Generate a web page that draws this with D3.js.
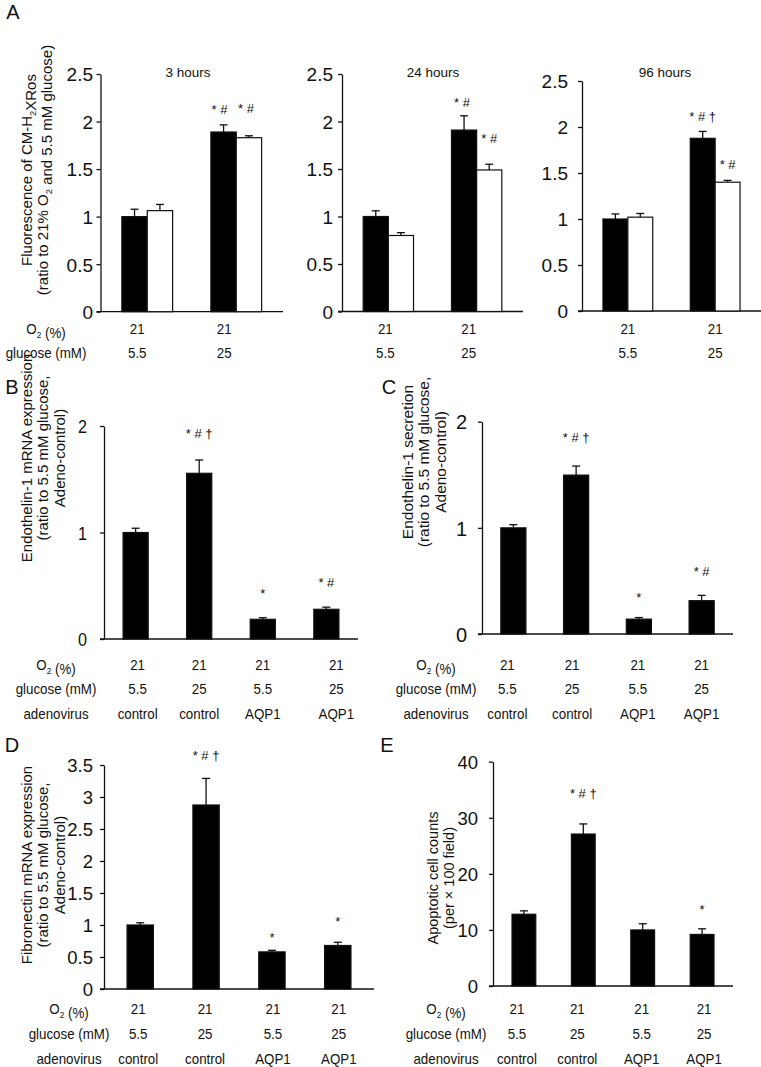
<!DOCTYPE html>
<html><head><meta charset="utf-8">
<script src="https://cdn.jsdelivr.net/npm/d3@7/dist/d3.min.js"></script>
<style>
body{margin:0;background:#fff}
svg{display:block}
text{font-family:"Liberation Sans",Arial,Helvetica,sans-serif;fill:#111}
</style></head><body>
<svg id="c" width="761" height="1067"></svg>
<script>
// ---------------- DATA ----------------
const timepointsA = ["3 hours", "24 hours", "96 hours"];
const o2A = ["21", "21"];
const glucoseA = ["5.5", "25"];
const ticksA = [0, 0.5, 1, 1.5, 2, 2.5];
const tickLabelsA = ["0", "0.5", "1", "1.5", "2", "2.5"];

const a3hBlack = [1.00, 1.89],  a3hBlackErr = [0.078, 0.075];
const a3hWhite = [1.063, 1.83], a3hWhiteErr = [0.065, 0.02];
const a24hBlack = [1.00, 1.91], a24hBlackErr = [0.06, 0.15];
const a24hWhite = [0.80, 1.49], a24hWhiteErr = [0.03, 0.06];
const a96hBlack = [1.00, 1.877], a96hBlackErr = [0.055, 0.075];
const a96hWhite = [1.02, 1.40],  a96hWhiteErr = [0.04, 0.02];

const annA3hBlack = ["", "* #"],    annA3hWhite = ["", "* #"];
const annA24hBlack = ["", "* #"],   annA24hWhite = ["", "* #"];
const annA96hBlack = ["", "* # †"], annA96hWhite = ["", "* #"];

const o2Four = ["21", "21", "21", "21"];
const glucoseFour = ["5.5", "25", "5.5", "25"];
const adenoFour = ["control", "control", "AQP1", "AQP1"];

const ticksBC = [0, 1, 2];
const tickLabelsBC = ["0", "1", "2"];
const ticksD = [0, 0.5, 1, 1.5, 2, 2.5, 3, 3.5];
const tickLabelsD = ["0", "0.5", "1", "1.5", "2", "2.5", "3", "3.5"];
const ticksE = [0, 10, 20, 30, 40];
const tickLabelsE = ["0", "10", "20", "30", "40"];

const bValues = [1.00, 1.556, 0.185, 0.279], bErr = [0.04, 0.125, 0.015, 0.02];
const cValues = [1.00, 1.497, 0.14, 0.314],  cErr = [0.03, 0.085, 0.015, 0.05];
const dValues = [1.00, 2.875, 0.58, 0.68],   dErr = [0.035, 0.415, 0.025, 0.05];
const eValues = [12.8, 27.1, 10.0, 9.2],     eErr = [0.6, 1.8, 1.1, 1.0];

const annB = ["", "* # †", "*", "* #"];
const annC = ["", "* # †", "*", "* #"];
const annD = ["", "* # †", "*", "*"];
const annE = ["", "* # †", "", "*"];

// ---------------- DRAWING ----------------
const svg = d3.select("#c");
const INK = "#111";

function richText(sel, segs, size) {
  segs.forEach(s => {
    if (s.sub) {
      sel.append("tspan").attr("font-size", size * 0.62).attr("dy", size * 0.25).text(s.t);
      sel.append("tspan").attr("dy", -size * 0.25).text("");
    } else {
      sel.append("tspan").text(s.t);
    }
  });
}

function addText(g, x, cy, content, size, opt = {}) {
  const sx = opt.sx || 1;
  const t = g.append("text")
    .attr("transform", `translate(${x},${cy + 0.36 * size}) scale(${sx},1)`)
    .attr("font-size", size)
    .attr("text-anchor", opt.anchor || "middle");
  if (Array.isArray(content)) richText(t, content, size); else t.text(content);
  return t;
}

function addYTitle(g, lines, xs, cy, size) {
  lines.forEach((ln, i) => {
    const t = g.append("text")
      .attr("transform", `translate(${xs[i] + 0.36 * size},${cy}) rotate(-90)`)
      .attr("font-size", size)
      .attr("text-anchor", "middle");
    richText(t, ln, size);
  });
}

function drawPanel(p) {
  const g = svg.append("g");
  const y = d3.scaleLinear().domain([0, p.max]).range([p.y0, p.yTop]);
  const n = p.series[0].vals.length;
  const x0 = d3.scaleBand().domain(d3.range(n)).range([p.axisX, p.right])
    .paddingInner(p.pi).paddingOuter(p.po);
  const x1 = d3.scaleBand().domain(d3.range(p.series.length)).range([0, x0.bandwidth()]);

  // y axis
  const ax = d3.axisLeft(y).tickValues(p.ticks).tickFormat((d, i) => p.tickLabels[i])
    .tickSize(4).tickSizeOuter(0).tickPadding(p.tickPad);
  const ag = g.append("g").attr("transform", `translate(${p.axisX},0)`).call(ax)
    .attr("font-size", null).attr("font-family", null);
  ag.selectAll("path,line").attr("stroke", INK).attr("stroke-width", 1.3);
  ag.selectAll("text").attr("font-size", p.tickSize).attr("fill", INK)
    .attr("dy", "0.36em")
    .attr("x", -(4 + p.tickPad) / (p.tickSx || 1))
    .attr("transform", `scale(${p.tickSx || 1},1)`);

  // baseline
  g.append("line").attr("x1", p.axisX - 4).attr("x2", p.right)
    .attr("y1", y(0)).attr("y2", y(0)).attr("stroke", INK).attr("stroke-width", 1.3);

  // bars, error bars, annotations
  p.series.forEach((s, si) => {
    const sg = g.append("g");
    s.vals.forEach((v, i) => {
      const bx = x0(i) + x1(si), bw = x1.bandwidth(), cx = bx + bw / 2;
      const top = y(v + s.err[i]);
      sg.append("line").attr("x1", cx).attr("x2", cx).attr("y1", y(v)).attr("y2", top)
        .attr("stroke", INK).attr("stroke-width", 1.3);
      sg.append("line").attr("x1", cx - 4).attr("x2", cx + 4).attr("y1", top).attr("y2", top)
        .attr("stroke", INK).attr("stroke-width", 1.3);
      sg.append("rect").attr("x", bx).attr("y", y(v)).attr("width", bw).attr("height", y(0) - y(v))
        .attr("fill", s.fill).attr("stroke", INK).attr("stroke-width", 1.2);
      if (s.ann[i]) {
        addText(sg, cx + (s.annDx || 0), top - s.gaps[i], s.ann[i], 13);
      }
    });
  });

  // chart title
  if (p.title) addText(g, p.title.x, p.title.y, p.title.text, 13.5);

  // condition rows below the axis
  p.rows.forEach((row, ri) => {
    row.forEach((lab, i) => {
      const cx = x0(i) + x0.bandwidth() / 2 + p.rowShift[i];
      addText(g, cx, p.rowsY[ri], lab, 14.5, { sx: 0.92 });
    });
  });
  if (p.rowLabels) {
    p.rowLabels.labels.forEach((lab, ri) => {
      addText(g, p.rowLabels.x, p.rowsY[ri], lab, 14.5, { sx: 0.92 });
    });
  }
  if (p.ytitle) addYTitle(g, p.ytitle.lines, p.ytitle.xs, p.ytitle.cy, p.ytitle.size);
  if (p.letter) addText(g, p.letter.x, p.letter.y, p.letter.text, 20);
}

const O2LAB = [{ t: "O" }, { t: "2", sub: true }, { t: " (%)" }];
const rowLabels3 = [O2LAB, "glucose (mM)", "adenovirus"];

// Panel A
drawPanel({
  axisX: 100.5, right: 283, y0: 311.7, yTop: 74, max: 2.5,
  ticks: ticksA, tickLabels: tickLabelsA, tickSize: 19, tickPad: 3.5, pi: 0.43, po: 0.24,
  series: [
    { vals: a3hBlack, err: a3hBlackErr, fill: "#000", ann: annA3hBlack, gaps: [0, 16], annDx: -4 },
    { vals: a3hWhite, err: a3hWhiteErr, fill: "#fff", ann: annA3hWhite, gaps: [0, 27], annDx: -3 }
  ],
  title: { text: timepointsA[0], x: 188, y: 72 },
  rows: [o2A, glucoseA], rowsY: [329, 353], rowShift: [-10, -12],
  rowLabels: { x: 46, labels: [O2LAB, "glucose (mM)"] },
  ytitle: {
    lines: [
      [{ t: "Fluorescence of CM-H" }, { t: "2", sub: true }, { t: "XRos" }],
      [{ t: "(ratio to 21% O" }, { t: "2", sub: true }, { t: " and 5.5 mM glucose)" }]
    ], xs: [27, 43], cy: 170, size: 15
  },
  letter: { text: "A", x: 13, y: 12 }
});
drawPanel({
  axisX: 342, right: 523, y0: 311.5, yTop: 74, max: 2.5,
  ticks: ticksA, tickLabels: tickLabelsA, tickSize: 19, tickPad: 5, pi: 0.43, po: 0.24,
  series: [
    { vals: a24hBlack, err: a24hBlackErr, fill: "#000", ann: annA24hBlack, gaps: [0, 13], annDx: -2 },
    { vals: a24hWhite, err: a24hWhiteErr, fill: "#fff", ann: annA24hWhite, gaps: [0, 26], annDx: 0 }
  ],
  title: { text: timepointsA[1], x: 433, y: 72 },
  rows: [o2A, glucoseA], rowsY: [329, 353], rowShift: [-3, -8]
});
drawPanel({
  axisX: 582, right: 761, y0: 311, yTop: 81, max: 2.5,
  ticks: ticksA, tickLabels: tickLabelsA, tickSize: 19, tickPad: 10, pi: 0.43, po: 0.24,
  series: [
    { vals: a96hBlack, err: a96hBlackErr, fill: "#000", ann: annA96hBlack, gaps: [0, 15], annDx: 0 },
    { vals: a96hWhite, err: a96hWhiteErr, fill: "#fff", ann: annA96hWhite, gaps: [0, 16], annDx: 0 }
  ],
  title: { text: timepointsA[2], x: 665, y: 72 },
  rows: [o2A, glucoseA], rowsY: [329, 353], rowShift: [0, 0]
});

// Panel B
drawPanel({
  axisX: 104, right: 358, y0: 639, yTop: 426, max: 2,
  ticks: ticksBC, tickLabels: tickLabelsBC, tickSize: 19, tickSx: 0.85, tickPad: 13, pi: 0.605, po: 0.30,
  series: [{ vals: bValues, err: bErr, fill: "#000", ann: annB, gaps: [0, 27, 24, 25] }],
  rows: [o2Four, glucoseFour, adenoFour], rowsY: [665, 689, 714], rowShift: [2, 0, 0, 10],
  rowLabels: { x: 56, labels: rowLabels3 },
  ytitle: {
    lines: [[{ t: "Endothelin-1 mRNA expression" }], [{ t: "(ratio to 5.5 mM glucose," }], [{ t: "Adeno-control)" }]],
    xs: [27, 43, 60], cy: 458, size: 15
  },
  letter: { text: "B", x: 12, y: 387 }
});

// Panel C
drawPanel({
  axisX: 482, right: 733, y0: 634, yTop: 421.7, max: 2,
  ticks: ticksBC, tickLabels: tickLabelsBC, tickSize: 20, tickPad: 11, pi: 0.6, po: 0.30,
  series: [{ vals: cValues, err: cErr, fill: "#000", ann: annC, gaps: [0, 29, 20, 24] }],
  rows: [o2Four, glucoseFour, adenoFour], rowsY: [665, 689, 714], rowShift: [-6, -4, -1, 0],
  rowLabels: { x: 436, labels: rowLabels3 },
  ytitle: {
    lines: [[{ t: "Endothelin-1 secretion" }], [{ t: "(ratio to 5.5 mM glucose," }], [{ t: "Adeno-control)" }]],
    xs: [407, 423, 440], cy: 462, size: 15.5
  },
  letter: { text: "C", x: 389, y: 387 }
});

// Panel D
drawPanel({
  axisX: 104, right: 374, y0: 989, yTop: 765, max: 3.5,
  ticks: ticksD, tickLabels: tickLabelsD, tickSize: 18.5, tickPad: 7, pi: 0.6, po: 0.35,
  series: [{ vals: dValues, err: dErr, fill: "#000", ann: annD, gaps: [0, 23, 13, 21] }],
  rows: [o2Four, glucoseFour, adenoFour], rowsY: [1009, 1034, 1059], rowShift: [-2, -1, 1, 1],
  rowLabels: { x: 69, labels: rowLabels3 },
  ytitle: {
    lines: [[{ t: "Fibronectin mRNA expression" }], [{ t: "(ratio to 5.5 mM glucose," }], [{ t: "Adeno-control)" }]],
    xs: [27, 43, 60], cy: 865, size: 15
  },
  letter: { text: "D", x: 12, y: 745 }
});

// Panel E
drawPanel({
  axisX: 493, right: 733, y0: 986, yTop: 761.7, max: 40,
  ticks: ticksE, tickLabels: tickLabelsE, tickSize: 18.5, tickPad: 11, pi: 0.6, po: 0.32,
  series: [{ vals: eValues, err: eErr, fill: "#000", ann: annE, gaps: [0, 31, 0, 19] }],
  rows: [o2Four, glucoseFour, adenoFour], rowsY: [1009, 1034, 1059], rowShift: [-7, -6, -1, 2],
  rowLabels: { x: 446, labels: rowLabels3 },
  ytitle: {
    lines: [[{ t: "Apoptotic cell counts" }], [{ t: "(per × 100 field)" }]],
    xs: [433, 449], cy: 878, size: 14.5
  },
  letter: { text: "E", x: 387, y: 745 }
});
</script>
</body></html>
